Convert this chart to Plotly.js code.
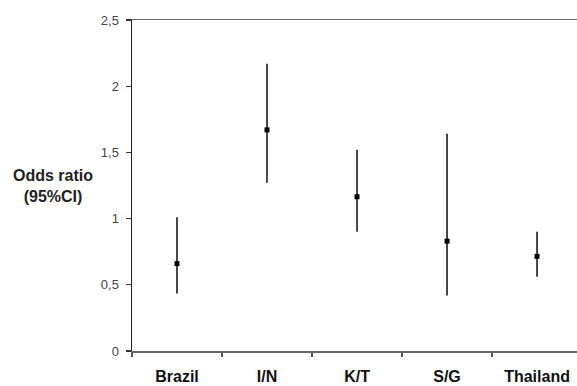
<!DOCTYPE html>
<html><head><meta charset="utf-8">
<script src="https://cdn.plot.ly/plotly-3.0.1.min.js"></script>
<style>html,body{margin:0;padding:0;background:#fff}</style>
</head><body>
<div id="chart" style="width:577px;height:386px"></div>
<script>
var categories = ["Brazil", "I/N", "K/T", "S/G", "Thailand"];
var oddsRatio = [0.66, 1.67, 1.165, 0.83, 0.715];
var ciLower = [0.435, 1.27, 0.90, 0.42, 0.56];
var ciUpper = [1.01, 2.17, 1.52, 1.64, 0.90];
var yTickVals = [0, 0.5, 1, 1.5, 2, 2.5];

var errPlus = oddsRatio.map(function(v, i){ return ciUpper[i] - v; });
var errMinus = oddsRatio.map(function(v, i){ return v - ciLower[i]; });

var trace = {
  type: 'scatter', mode: 'markers',
  x: categories, y: oddsRatio,
  marker: {symbol: 'square', size: 5, color: '#000'},
  error_y: {type: 'data', symmetric: false, array: errPlus, arrayminus: errMinus,
            color: '#333', thickness: 1.8, width: 0},
  hoverinfo: 'none', showlegend: false
};

var layout = {
  width: 577, height: 386,
  margin: {l: 132, r: 0, t: 20, b: 35},
  paper_bgcolor: '#fff', plot_bgcolor: '#fff',
  separators: ', ',
  showlegend: false,
  xaxis: {
    type: 'category', range: [-0.5, 4.444],
    tickson: 'boundaries', ticks: 'outside', ticklen: 4, tickwidth: 1.2, tickcolor: '#555',
    showline: true, linecolor: '#666', linewidth: 1.5, mirror: true,
    showgrid: false, zeroline: false,
    ticklabelstandoff: 10,
    tickfont: {family: 'Liberation Sans, Arial, sans-serif', size: 16, color: '#111', weight: 'bold'}
  },
  yaxis: {
    range: [0, 2.5], tickvals: yTickVals,
    ticks: 'outside', ticklen: 5, tickwidth: 1.2, tickcolor: '#333',
    showline: true, linecolor: '#222', linewidth: 1.5,
    showgrid: false, zeroline: false,
    ticklabelstandoff: 4,
    tickfont: {family: 'Liberation Sans, Arial, sans-serif', size: 13, color: '#444'}
  },
  annotations: [{
    xref: 'paper', yref: 'paper', x: -0.178, y: 0.50, xanchor: 'center', yanchor: 'middle',
    text: 'Odds ratio<br>(95%CI)', showarrow: false, align: 'center',
    font: {family: 'Liberation Sans, Arial, sans-serif', size: 16, color: '#222', weight: 'bold'}
  }]
};

Plotly.newPlot('chart', [trace], layout, {displayModeBar: false, staticPlot: true});
</script>
</body></html>
